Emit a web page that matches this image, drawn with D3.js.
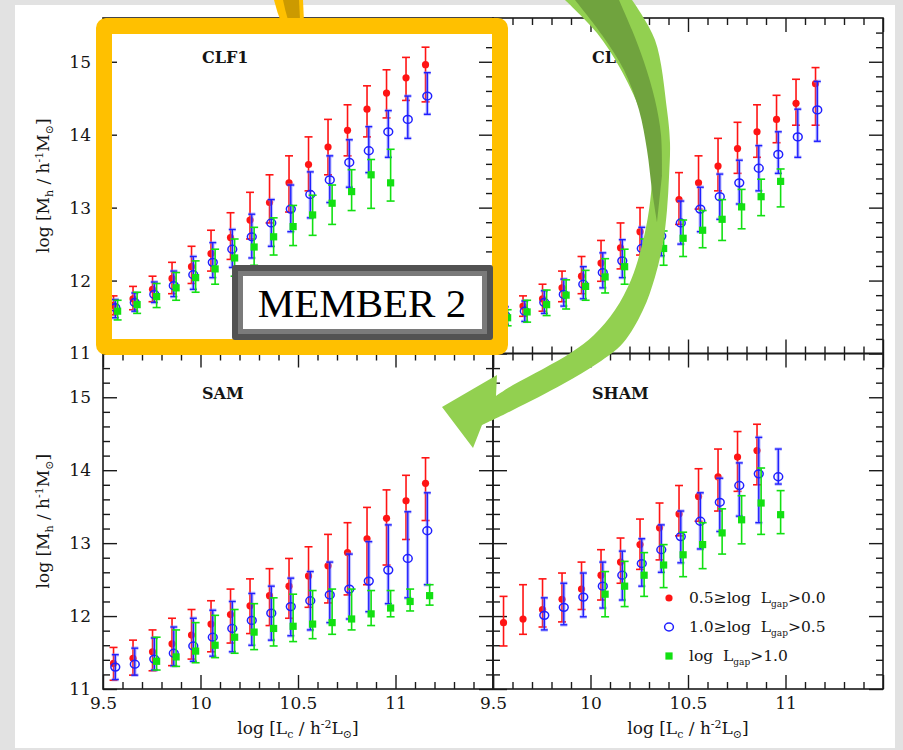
<!DOCTYPE html>
<html lang="en">
<head>
<meta charset="UTF-8">
<title>Halo mass vs central luminosity by magnitude gap</title>
<script src="https://d3js.org/d3.v7.min.js"></script>
<style>
  body { margin: 0; background: #e3e3e3; }
  svg { display: block; }
  text { font-family: "DejaVu Serif", "Liberation Serif", serif; fill: #151515; }
</style>
</head>
<body>
<svg id="chart" width="903" height="750"></svg>
<script>
// central luminosity bins, log [Lc / h^-2 Lsun]
const bins = [9.55, 9.65, 9.75, 9.85, 9.95, 10.05, 10.15, 10.25, 10.35, 10.45, 10.55, 10.65, 10.75, 10.85, 10.95, 11.05, 11.15];

// each entry: [log Mh, upper error end, lower error end], null where the bin is empty
const clf1Red = [[11.66,11.79,11.53],[11.75,11.92,11.60],[11.88,12.06,11.71],[12.03,12.25,11.82],[12.19,12.47,11.96],[12.37,12.69,12.13],[12.59,12.93,12.29],[12.83,13.21,12.57],[13.07,13.45,12.79],[13.34,13.71,12.94],[13.59,13.97,13.23],[13.83,14.21,13.45],[14.06,14.41,13.71],[14.35,14.67,13.97],[14.57,14.89,14.23],[14.78,15.06,14.47],[14.96,15.20,14.45]];
const clf1Blue = [[11.63,11.74,11.49],[11.70,11.83,11.58],[11.81,11.98,11.70],[11.93,12.13,11.78],[12.08,12.33,11.88],[12.25,12.52,12.04],[12.43,12.70,12.18],[12.60,12.91,12.31],[12.79,13.11,12.47],[12.98,13.31,12.67],[13.18,13.49,12.86],[13.38,13.71,13.07],[13.62,13.93,13.28],[13.78,14.11,13.48],[14.04,14.33,13.69],[14.21,14.53,13.95],[14.53,14.85,14.28]];
const clf1Green = [[11.58,11.73,11.46],[11.67,11.84,11.55],[11.78,11.96,11.63],[11.90,12.11,11.73],[12.04,12.27,11.84],[12.16,12.43,11.95],[12.31,12.57,12.06],[12.46,12.73,12.21],[12.60,12.86,12.35],[12.74,13.03,12.48],[12.90,13.17,12.62],[13.06,13.31,12.77],[13.22,13.52,12.96],[13.45,13.66,12.99],[13.34,13.80,13.09],null,null];

const clf2Red = [[11.57,11.70,11.44],[11.65,11.79,11.51],[11.75,11.95,11.58],[11.90,12.13,11.71],[12.06,12.33,11.82],[12.24,12.55,11.99],[12.45,12.79,12.16],[12.67,13.00,12.35],[12.90,13.23,12.56],[13.11,13.48,12.77],[13.34,13.71,12.98],[13.57,13.95,13.23],[13.81,14.17,13.47],[14.04,14.41,13.69],[14.21,14.54,13.89],[14.43,14.76,14.13],[14.70,14.92,14.13]];
const clf2Blue = [[11.52,11.64,11.40],[11.58,11.72,11.44],[11.70,11.86,11.55],[11.81,12.02,11.65],[11.95,12.19,11.75],[12.11,12.38,11.90],[12.27,12.56,12.04],[12.44,12.73,12.20],[12.61,12.91,12.34],[12.79,13.09,12.50],[12.98,13.28,12.67],[13.15,13.46,12.84],[13.34,13.65,13.05],[13.54,13.85,13.23],[13.73,14.04,13.47],[13.97,14.35,13.69],[14.34,14.73,13.91]];
const clf2Green = [[11.49,11.60,11.38],[11.57,11.73,11.43],[11.67,11.87,11.52],[11.80,12.01,11.61],[11.92,12.14,11.73],[12.05,12.30,11.83],[12.19,12.43,11.95],[12.33,12.57,12.09],[12.44,12.68,12.21],[12.58,12.83,12.33],[12.69,12.96,12.45],[12.84,13.11,12.55],[13.01,13.25,12.71],[13.15,13.39,12.89],[13.36,13.53,13.01],null,null];

const samRed = [[11.35,11.57,11.12],[11.42,11.67,11.19],[11.51,11.81,11.25],[11.62,11.97,11.32],[11.74,12.09,11.41],[11.89,12.21,11.51],[12.02,12.37,11.63],[12.14,12.51,11.76],[12.28,12.65,11.87],[12.41,12.79,11.97],[12.55,12.95,12.12],[12.69,13.12,12.18],[12.87,13.28,12.29],[13.06,13.49,12.43],[13.34,13.73,12.70],[13.58,13.93,13.05],[13.82,14.17,13.31]];
const samBlue = [[11.30,11.47,11.13],[11.34,11.56,11.19],[11.41,11.70,11.26],[11.49,11.85,11.32],[11.59,11.97,11.38],[11.71,12.08,11.45],[11.83,12.20,11.51],[11.94,12.31,11.60],[12.04,12.41,11.67],[12.13,12.52,11.73],[12.21,12.61,11.81],[12.29,12.74,11.91],[12.37,12.85,11.96],[12.48,13.02,12.06],[12.63,13.25,12.17],[12.79,13.43,12.25],[13.17,13.69,12.43]];
const samGreen = [null,null,[11.38,11.71,11.26],[11.44,11.81,11.31],[11.52,11.91,11.36],[11.60,12.01,11.43],[11.71,12.09,11.49],[11.78,12.17,11.54],[11.83,12.25,11.59],[11.86,12.30,11.65],[11.89,12.35,11.69],[11.91,12.37,11.75],[11.96,12.37,11.81],[12.03,12.35,11.87],[12.11,12.35,11.99],[12.20,12.37,12.07],[12.28,12.43,12.15]];

const shamRed = [[11.91,12.27,11.59],[11.96,12.43,11.75],[12.09,12.51,11.85],[12.23,12.59,11.92],[12.37,12.74,12.09],[12.56,12.91,12.22],[12.74,13.07,12.45],[12.98,13.33,12.64],[13.21,13.55,12.77],[13.40,13.79,13.10],[13.64,14.02,13.30],[13.91,14.29,13.44],[14.18,14.53,13.71],[14.27,14.63,13.80],null,null,null];
const shamBlue = [null,null,[12.01,12.25,11.81],[12.12,12.45,11.88],[12.26,12.59,11.99],[12.41,12.74,12.11],[12.56,12.89,12.22],[12.72,13.06,12.41],[12.91,13.25,12.60],[13.09,13.44,12.73],[13.30,13.69,12.92],[13.56,13.89,13.16],[13.79,14.10,13.37],[13.95,14.45,13.28],[13.91,14.29,13.81],null,null];
const shamGreen = [null,null,null,null,null,[12.30,12.61,11.99],[12.41,12.75,12.13],[12.56,12.87,12.27],[12.70,12.98,12.39],[12.84,13.15,12.54],[12.98,13.28,12.65],[13.14,13.47,12.85],[13.32,13.65,12.99],[13.55,14.03,13.12],[13.39,13.72,13.13],null,null];

const panelTitles = ["CLF1", "CLF2", "SAM", "SHAM"];
const legendLabels = [["0.5\u2265log  L", "gap", ">0.0"], ["1.0\u2265log  L", "gap", ">0.5"], ["log  L", "gap", ">1.0"]];
const yTicks = [11, 12, 13, 14, 15];
const xTicks = [9.5, 10, 10.5, 11];

const svg = d3.select("#chart");

// slide background and white card
svg.append("rect").attr("width", 903).attr("height", 750).attr("fill", "#e2e2e2");
svg.append("rect").attr("x", 15).attr("y", 5).attr("width", 880).attr("height", 743).attr("fill", "#fff");

const W = 390, H = 335.5, frameLeft = 103, frameTop = 18;
const seriesStyle = [
  { color: "#ff1414", dx: 0.004, cap: 4 },
  { color: "#1f1fff", dx: 0.013, cap: 3.5 },
  { color: "#12e012", dx: 0.025, cap: 4 }
];

const panels = [
  { title: panelTitles[0], col: 0, row: 0, series: [clf1Red, clf1Blue, clf1Green] },
  { title: panelTitles[1], col: 1, row: 0, series: [clf2Red, clf2Blue, clf2Green] },
  { title: panelTitles[2], col: 0, row: 1, series: [samRed, samBlue, samGreen] },
  { title: panelTitles[3], col: 1, row: 1, series: [shamRed, shamBlue, shamGreen], legend: true }
];

const minorX = d3.range(9.6, 11.45, 0.1).filter(v => Math.abs(v * 2 - Math.round(v * 2)) > 0.01);
const minorY = d3.range(11.2, 15.6, 0.2).filter(v => Math.abs(v - Math.round(v)) > 0.01);

function styleAxis(g, labelSize) {
  g.select(".domain").remove();
  g.selectAll("line").attr("stroke", "#1a1a1a").attr("stroke-width", 1.4);
  g.selectAll("text").attr("font-size", labelSize).attr("fill", "#151515");
}

panels.forEach(p => {
  const x0 = frameLeft + p.col * W, y0 = frameTop + p.row * H;
  const x = d3.scaleLinear().domain([9.5, 11.5]).range([x0, x0 + W]);
  const y = d3.scaleLinear().domain([11, 15.6]).range([y0 + H, y0]);
  const g = svg.append("g");

  // inward ticks on all four sides
  const axes = [
    [d3.axisLeft(y), `translate(${x0},0)`, yTicks, minorY, p.col === 0, false],
    [d3.axisRight(y), `translate(${x0 + W},0)`, yTicks, minorY, false, false],
    [d3.axisBottom(x), `translate(0,${y0 + H})`, xTicks.concat([11.5]), minorX, p.row === 1, true],
    [d3.axisTop(x), `translate(0,${y0})`, xTicks.concat([11.5]), minorX, false, true]
  ];
  axes.forEach(([ax, tr, major, minor, labels, isX]) => {
    const gn = g.append("g").attr("transform", tr)
      .call(ax.tickValues(minor).tickSize(-7).tickFormat(""));
    styleAxis(gn, 17);
    const gm = g.append("g").attr("transform", tr)
      .call(ax.tickValues(major).tickSize(-14).tickPadding(isX ? 8 : 12)
        .tickFormat(labels ? (d => d === 11.5 ? "" : String(d)) : ""));
    styleAxis(gm, 17);
  });

  g.append("rect")
    .attr("x", x0).attr("y", y0).attr("width", W).attr("height", H)
    .attr("fill", "none").attr("stroke", "#1a1a1a").attr("stroke-width", 1.6);

  g.append("text")
    .attr("x", x0 + 99).attr("y", y0 + 45)
    .attr("font-size", 16).attr("font-weight", "bold")
    .text(p.title);

  // error bars then markers, red -> blue -> green
  p.series.forEach((data, si) => {
    const st = seriesStyle[si];
    const pts = data.map((d, i) => d && { x: bins[i] + st.dx, v: d[0], hi: d[1], lo: d[2] }).filter(Boolean);
    const bars = g.append("g");
    const widths = si === 1 ? [[3.6, 0.45, "#7d7dff"], [1.4, 1, st.color]] : [[1.6, 1, st.color]];
    widths.forEach(([sw, op, col]) => {
      const bg = bars.append("g").attr("stroke", col).attr("stroke-width", sw).attr("opacity", op);
      pts.forEach(d => {
        const cx = x(d.x);
        bg.append("line").attr("x1", cx).attr("x2", cx).attr("y1", y(d.hi)).attr("y2", y(d.lo));
        bg.append("line").attr("x1", cx - st.cap).attr("x2", cx + st.cap).attr("y1", y(d.hi)).attr("y2", y(d.hi));
        bg.append("line").attr("x1", cx - st.cap).attr("x2", cx + st.cap).attr("y1", y(d.lo)).attr("y2", y(d.lo));
      });
    });
    if (si === 0) {
      g.selectAll(null).data(pts).join("circle")
        .attr("cx", d => x(d.x)).attr("cy", d => y(d.v)).attr("r", 3.6).attr("fill", st.color);
    } else if (si === 1) {
      g.selectAll(null).data(pts).join("ellipse")
        .attr("cx", d => x(d.x)).attr("cy", d => y(d.v)).attr("rx", 4.4).attr("ry", 3.9)
        .attr("fill", "none").attr("stroke", st.color).attr("stroke-width", 1.5);
    } else {
      g.selectAll(null).data(pts).join("rect")
        .attr("x", d => x(d.x) - 3.6).attr("y", d => y(d.v) - 3.6).attr("width", 7.2).attr("height", 7.2)
        .attr("fill", st.color);
    }
  });

  if (p.legend) {
    const lg = g.append("g").attr("transform", "translate(669,598)");
    legendLabels.forEach((lab, i) => {
      const row = lg.append("g").attr("transform", `translate(0,${i * 29})`);
      if (i === 0) row.append("circle").attr("r", 3.6).attr("fill", seriesStyle[0].color);
      if (i === 1) row.append("ellipse").attr("rx", 4.4).attr("ry", 3.9).attr("fill", "none").attr("stroke", seriesStyle[1].color).attr("stroke-width", 1.5);
      if (i === 2) row.append("rect").attr("x", -3.6).attr("y", -3.6).attr("width", 7.2).attr("height", 7.2).attr("fill", seriesStyle[2].color);
      const t = row.append("text").attr("x", 20).attr("y", 5).attr("font-size", 15.5).attr("xml:space", "preserve");
      t.append("tspan").text(lab[0]);
      t.append("tspan").attr("font-size", 9).attr("dy", 4).text(lab[1]);
      t.append("tspan").attr("dy", -4).text(lab[2]);
    });
  }
});

// axis titles
[frameTop + H / 2, frameTop + 1.5 * H].forEach(cy => {
  const t = svg.append("text").attr("transform", `translate(49,${cy}) rotate(-90)`)
    .attr("text-anchor", "middle").attr("font-size", 17).attr("xml:space", "preserve");
  t.append("tspan").text("log [M");
  t.append("tspan").attr("font-size", 11).attr("dy", 4).text("h");
  t.append("tspan").attr("dy", -4).text(" / h");
  t.append("tspan").attr("font-size", 11).attr("dy", -6).text("-1");
  t.append("tspan").attr("dy", 6).text("M");
  t.append("tspan").attr("font-size", 11).attr("dy", 4).text("\u2299");
  t.append("tspan").attr("dy", -4).text("]");
});
[frameLeft + W / 2, frameLeft + 1.5 * W].forEach(cx => {
  const t = svg.append("text").attr("x", cx).attr("y", 734)
    .attr("text-anchor", "middle").attr("font-size", 17).attr("xml:space", "preserve");
  t.append("tspan").text("log [L");
  t.append("tspan").attr("font-size", 11).attr("dy", 4).text("c");
  t.append("tspan").attr("dy", -4).text(" / h");
  t.append("tspan").attr("font-size", 11).attr("dy", -6).text("-2");
  t.append("tspan").attr("dy", 6).text("L");
  t.append("tspan").attr("font-size", 11).attr("dy", 4).text("\u2299");
  t.append("tspan").attr("dy", -4).text("]");
});

// --- slide annotations on top of the figure ---
// gold highlight frame with its connector stub
svg.append("path").attr("d", "M274,0 Q277,12 281,22 L304,22 L303,0 Z").attr("fill", "#ffc000");
svg.append("path").attr("d", "M283,0 Q285,10 288,20 L300,20 L299,0 Z").attr("fill", "#cc9a00");
svg.append("rect").attr("x", 104).attr("y", 26).attr("width", 396).attr("height", 321)
  .attr("rx", 2).attr("fill", "none").attr("stroke", "#ffc000").attr("stroke-width", 16);

// "MEMBER 2" label box
svg.append("rect").attr("x", 232).attr("y", 265).attr("width", 261).attr("height", 75).attr("rx", 3).attr("fill", "#525252");
svg.append("rect").attr("x", 238).attr("y", 271).attr("width", 249).attr("height", 63).attr("fill", "#7a7a7a");
svg.append("rect").attr("x", 243).attr("y", 276).attr("width", 239).attr("height", 53).attr("fill", "#fff");
svg.append("text").attr("x", 362).attr("y", 317).attr("text-anchor", "middle")
  .style("font-family", "'Liberation Serif', 'Times New Roman', serif").style("fill", "#000")
  .attr("font-size", 41)
  .text("MEMBER 2");

// curved green arrow
const curve = d3.line().curve(d3.curveCatmullRom);
const arrowOuter = [[632,0],[655,40],[667,110],[670,143],[669,177],[667,210],[663,243],[655,277],[643,310],[623,343],[598,363],[563,384],[513,410],[482,425]];
const arrowHead = [[473,448],[442,407],[497,375]];
const arrowInner = [[496,396],[513,385],[543,369],[572,352],[594,335],[615,310],[631,280],[642,245],[649,210],[652,177],[650,143],[640,110],[620,68],[597,33],[565,0]];
const arrowD = curve(arrowOuter) + arrowHead.map(p => "L" + p).join("") + curve(arrowInner).replace(/^M/, "L") + "Z";
svg.append("path").attr("d", arrowD).attr("fill", "#92d050");
const darkEdgeA = [[575,0],[602,35],[624,70],[639,110],[647,150],[652,190],[657,222]];
const darkEdgeB = [[662,175],[661,135],[655,100],[644,62],[632,30],[619,0]];
svg.append("path").attr("d", curve(darkEdgeA) + curve(darkEdgeB).replace(/^M/, "L") + "Z").attr("fill", "#70a33e");
</script>
</body>
</html>
